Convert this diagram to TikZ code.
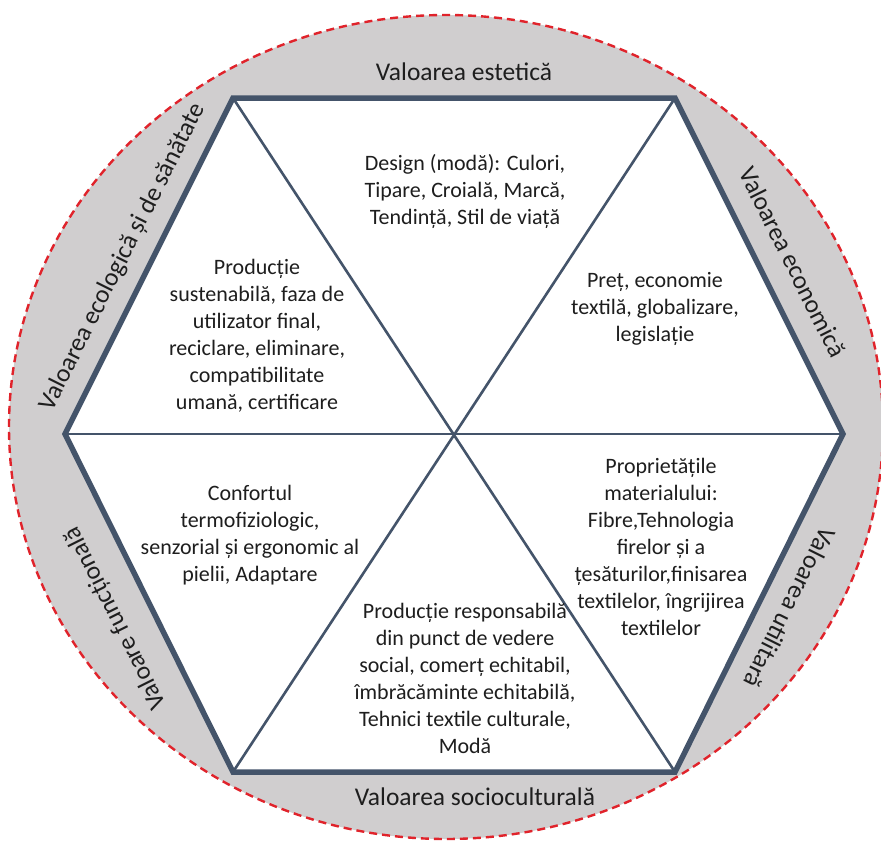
\documentclass[tikz,border=0pt]{standalone}
\usepackage{fontspec}
\setmainfont{Carlito}
\definecolor{ringgrey}{HTML}{D0CECF}
\definecolor{ringred}{HTML}{E0232B}
\definecolor{hexline}{HTML}{44546A}
\definecolor{txt}{HTML}{1E1E1E}
\tikzset{
  body/.style={align=center, text=txt, font=\fontsize{22}{27}\selectfont, inner sep=0pt},
  sidelabel/.style={text=txt, font=\fontsize{25.5}{30}\selectfont, inner sep=0pt},
  outer/.style={draw=hexline, line width=5.5pt, line join=miter, fill=white},
  inner/.style={draw=hexline, line width=2.6pt},
  ring/.style={fill=ringgrey, draw=ringred, line width=2.4pt, dash pattern=on 8pt off 5pt}
}
\begin{document}
\begin{tikzpicture}[x=1pt,y=1pt]
\useasboundingbox (0,0) rectangle (881,-841);
\begin{scope}
\clip (0,0) rectangle (881,-841);
\draw[ring] (446,-427) ellipse [x radius=437, y radius=412];
\end{scope}
% hexagon vertices
\coordinate (TL) at (233,-98);
\coordinate (TR) at (675,-98);
\coordinate (R) at (843,-434);
\coordinate (BR) at (675,-772);
\coordinate (BL) at (233,-772);
\coordinate (L) at (65,-434);
\draw[outer] (TL) -- (TR) -- (R) -- (BR) -- (BL) -- (L) -- cycle;
\draw[inner] (TL) -- (BR);
\draw[inner] (TR) -- (BL);
\draw[inner] (L) -- (R);
% side labels
\node[sidelabel] (est) at (464,-72) {Valoarea estetică};
\node[sidelabel] (soc) at (475,-797) {Valoarea socioculturală};
\node[sidelabel, rotate=63.4] (eco) at (123,-257) {Valoarea ecologică și de sănătate};
\node[sidelabel, rotate=-63.4] (econ) at (793,-262) {Valoarea economică};
\node[sidelabel, rotate=-116.6] (util) at (790,-608) {Valoarea utilitară};
\node[sidelabel, rotate=116.6] (func) at (116,-618) {Valoare funcțională};
% triangle texts
\node[body] (design) at (465,-191) {Design (modă): Culori,\\Tipare, Croială, Marcă,\\Tendință, Stil de viață};
\node[body] (pret) at (655,-309) {Preț, economie\\textilă, globalizare,\\legislație};
\node[body] (sust) at (257,-336) {Producție\\sustenabilă, faza de\\utilizator final,\\reciclare, eliminare,\\compatibilitate\\umană, certificare};
\node[body] (conf) at (250,-535) {Confortul\\termofiziologic,\\senzorial și ergonomic al\\pielii, Adaptare};
\node[body] (resp) at (465,-678) {Producție responsabilă\\din punct de vedere\\social, comerț echitabil,\\îmbrăcăminte echitabilă,\\Tehnici textile culturale,\\Modă};
\node[body] (prop) at (661,-547) {Proprietățile\\materialului:\\Fibre,Tehnologia\\firelor și a\\țesăturilor,finisarea\\textilelor, îngrijirea\\textilelor};
\end{tikzpicture}
\end{document}
